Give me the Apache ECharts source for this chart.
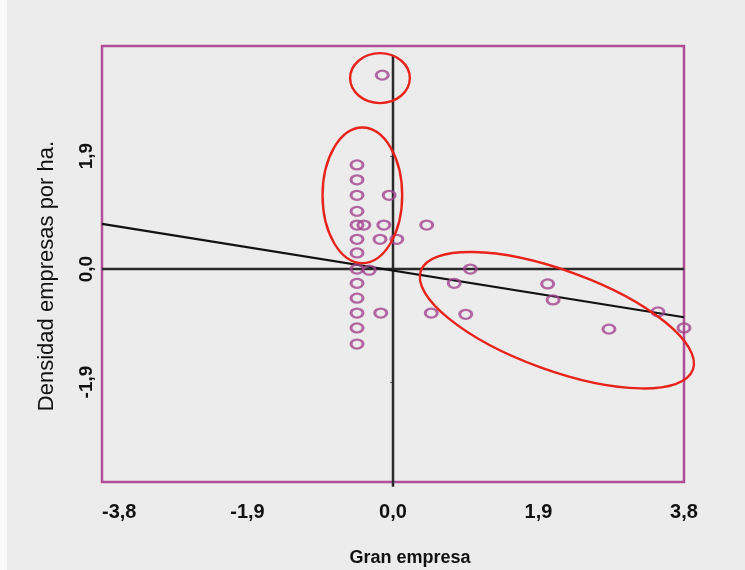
<!DOCTYPE html>
<html><head><meta charset="utf-8">
<script src="https://cdn.jsdelivr.net/npm/echarts@6/dist/echarts.min.js"></script>
<style>html,body{margin:0;padding:0;background:#ececec}#c{width:745px;height:570px}</style>
</head><body><div id="c"></div>
<script>
// Scatter points (Gran empresa, Densidad empresas por ha.)
const pointX = [-0.47,-0.47,-0.47,-0.47,-0.47,-0.47,-0.47,-0.47,-0.47,-0.47,-0.47,-0.47,-0.47,
  -0.38,-0.05,-0.12,-0.17,0.05,-0.31,-0.16,0.44,0.50,-0.14,1.01,0.80,0.95,2.02,2.09,2.82,3.46,3.80];
const pointY = [1.75,1.50,1.24,0.97,0.74,0.50,0.27,0,-0.24,-0.49,-0.74,-0.99,-1.26,
  0.74,1.24,0.74,0.50,0.50,-0.02,-0.74,0.74,-0.74,3.26,0,-0.24,-0.76,-0.25,-0.52,-1.01,-0.72,-0.99];
// Tick labels
const xTicks = [-3.8,-1.9,0,1.9,3.8];
const yTicks = [-1.9,0,1.9];
// Fit line ends
const fitX = [-3.8, 3.8];
const fitY = [0.76, -0.81];
// Reference lines
const vLineY = [3.6, -3.66];
const hLineX = [-3.8, 3.8];
// Annotation ellipses (data units)
const ellCx = [-0.17, -0.40, 2.14];
const ellCy = [3.21, 1.24, -0.86];
const ellRx = [0.39, 0.52, 1.89];
const ellRy = [0.42, 1.14, 0.84];
const ellRotDeg = [0, 0, -20];

const fmt = v => (Math.round(v*10)/10).toFixed(1).replace('.', ',');
const chart = echarts.init(document.getElementById('c'));
const font = 'Liberation Sans, Arial, sans-serif';
const baseGraphics = [
  {id: 'strip', type: 'rect', left: 0, top: 0, shape: {width: 7, height: 570}, style: {fill: '#fafafa'}},
  {id: 'xt', type: 'text', x: 410, y: 558, style: {text: 'Gran empresa', font: 'bold 18px ' + font, fill: '#111', align: 'center', verticalAlign: 'middle'}},
  {id: 'yt', type: 'text', x: 47, y: 276, rotation: Math.PI/2, style: {text: 'Densidad empresas por ha.', font: '22px ' + font, fill: '#111', align: 'center', verticalAlign: 'middle'}}
];
chart.setOption({
  backgroundColor: '#ececec',
  animation: false,
  grid: {left: 102, right: 61, top: 46, bottom: 88, show: true, borderColor: '#b04e96', borderWidth: 2.5, backgroundColor: 'transparent'},
  xAxis: {
    type: 'value', min: -3.8, max: 3.8, interval: 1.9,
    axisLine: {show: false}, splitLine: {show: false},
    axisTick: {show: false},
    axisLabel: {formatter: fmt, fontFamily: font, fontSize: 20, fontWeight: 'bold', color: '#111', margin: 20, showMinLabel: true, showMaxLabel: true, alignMinLabel: 'left'}
  },
  yAxis: {
    type: 'value', min: -3.58, max: 3.75,
    axisLine: {show: false}, splitLine: {show: false},
    axisTick: {show: true, length: 3, customValues: yTicks, lineStyle: {color: '#666'}},
    axisLabel: {customValues: yTicks, formatter: fmt, rotate: 90, fontFamily: font, fontSize: 19, fontWeight: 'bold', color: '#111', margin: 6}
  },
  graphic: baseGraphics,
  series: [
    {type: 'line', data: [[0, vLineY[0]], [0, vLineY[1]]], symbol: 'none', clip: false, lineStyle: {color: '#2a2a2a', width: 2.5}, z: 1},
    {type: 'line', data: [[hLineX[0], 0], [hLineX[1], 0]], symbol: 'none', clip: false, lineStyle: {color: '#2a2a2a', width: 2.5}, z: 1},
    {type: 'line', data: [[fitX[0], fitY[0]], [fitX[1], fitY[1]]], symbol: 'none', clip: false, lineStyle: {color: '#111', width: 2.2}, z: 2},
    {type: 'scatter', data: pointX.map((x, i) => [x, pointY[i]]), symbol: 'circle', symbolSize: [12, 9], clip: false,
     itemStyle: {color: 'rgba(0,0,0,0)', borderColor: '#a2438e', borderWidth: 2.6}, z: 3}
  ]
});
const o = chart.convertToPixel({gridIndex: 0}, [0, 0]);
const ux = chart.convertToPixel({gridIndex: 0}, [1, 0])[0] - o[0];
const uy = o[1] - chart.convertToPixel({gridIndex: 0}, [0, 1])[1];
const ells = ellCx.map((cx, i) => {
  const p = chart.convertToPixel({gridIndex: 0}, [cx, ellCy[i]]);
  return {id: 'ell' + i, type: 'ellipse', x: p[0], y: p[1], rotation: ellRotDeg[i] * Math.PI / 180,
    shape: {cx: 0, cy: 0, rx: ellRx[i] * ux, ry: ellRy[i] * uy},
    style: {fill: 'none', stroke: '#e8231c', lineWidth: 2.4}, z: 10};
});
chart.setOption({graphic: baseGraphics.concat(ells)});
</script></body></html>
